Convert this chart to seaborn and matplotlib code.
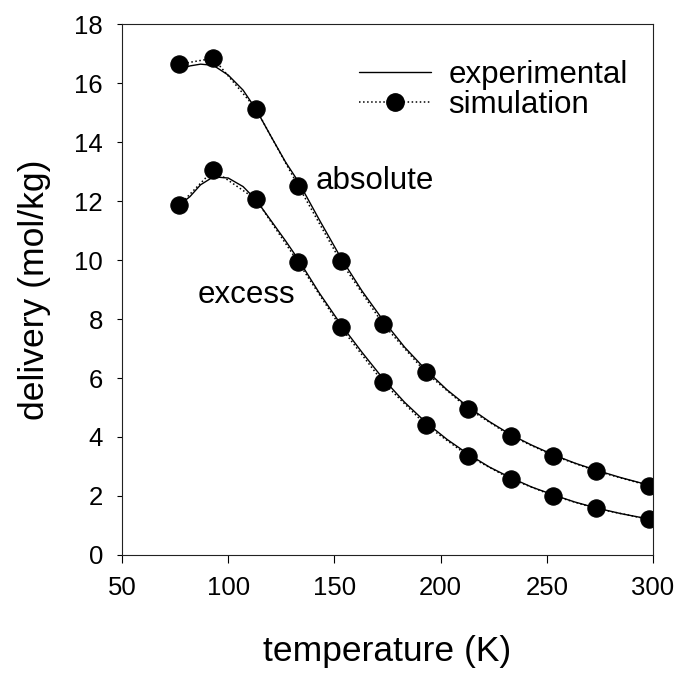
import matplotlib
matplotlib.use("Agg")
import matplotlib.pyplot as plt
import seaborn as sns
import pandas as pd
from matplotlib.lines import Line2D

# --- data ---
sim_T = [77, 93, 113, 133, 153, 173, 193, 213, 233, 253, 273, 298]
sim_absolute = [16.64, 16.84, 15.13, 12.51, 9.95, 7.82, 6.19, 4.96, 4.04, 3.37, 2.85, 2.35]
sim_excess = [11.86, 13.05, 12.06, 9.92, 7.72, 5.85, 4.41, 3.36, 2.58, 2.01, 1.58, 1.21]

exp_T = [77, 82, 87, 93, 100, 107, 113, 120, 127, 133, 143, 153, 163, 173,
         183, 193, 203, 213, 223, 233, 243, 253, 263, 273, 285, 298]
exp_absolute = [16.46, 16.58, 16.64, 16.60, 16.27, 15.76, 15.12, 14.21, 13.32, 12.66,
                11.35, 10.08, 8.95, 7.95, 7.05, 6.28, 5.60, 5.02, 4.52, 4.08,
                3.72, 3.40, 3.12, 2.88, 2.62, 2.37]
exp_excess = [11.86, 12.15, 12.55, 12.82, 12.78, 12.49, 12.05, 11.35, 10.65, 10.02,
              8.87, 7.82, 6.87, 5.97, 5.18, 4.50, 3.92, 3.42, 2.98, 2.62,
              2.30, 2.04, 1.80, 1.60, 1.40, 1.22]

x_ticks = [50, 100, 150, 200, 250, 300]
y_ticks = [0, 2, 4, 6, 8, 10, 12, 14, 16, 18]
legend_labels = ["experimental", "simulation"]
curve_labels = ["absolute", "excess"]

sim_df = pd.DataFrame({"T": sim_T, "absolute": sim_absolute, "excess": sim_excess})
exp_df = pd.DataFrame({"T": exp_T, "absolute": exp_absolute, "excess": exp_excess})

sns.set_theme(style="ticks")
plt.rcParams["font.family"] = ["Liberation Sans", "DejaVu Sans"]
plt.rcParams["text.color"] = "black"
plt.rcParams["axes.labelcolor"] = "black"
plt.rcParams["xtick.color"] = "black"
plt.rcParams["ytick.color"] = "black"

fig = plt.figure(figsize=(6.8, 6.75), dpi=100)
ax = fig.add_axes([0.1794, 0.1778, 0.9603 - 0.1794, 0.9644 - 0.1778])

for col in ["absolute", "excess"]:
    sns.lineplot(data=exp_df, x="T", y=col, ax=ax, color="black", lw=1.0,
                 linestyle="-", estimator=None, sort=True)
    sns.lineplot(data=sim_df, x="T", y=col, ax=ax, color="black", lw=1.1,
                 linestyle=":", marker="o", markersize=12.5,
                 markeredgecolor="black", markerfacecolor="black",
                 estimator=None, sort=True)

ax.set_xlim(50, 300)
ax.set_ylim(0, 18)
ax.set_xticks(x_ticks)
ax.set_yticks(y_ticks)
ax.set_xlabel("temperature (K)", fontsize=25.5, labelpad=25, color="black")
ax.set_ylabel("delivery (mol/kg)", fontsize=25.5, labelpad=17, color="black")
ax.tick_params(axis="x", direction="out", length=6, width=0.8, pad=9,
               labelsize=18.5, colors="black")
ax.tick_params(axis="y", direction="out", length=3.6, width=0.8, pad=10,
               labelsize=18.5, colors="black")
for s in ax.spines.values():
    s.set_visible(True)
    s.set_linewidth(0.8)
    s.set_color("#222222")

ax.text(141.3, 12.68, curve_labels[0], fontsize=22.5, va="center", ha="left", color="black")
ax.text(85.8, 8.81, curve_labels[1], fontsize=22.5, va="center", ha="left", color="black")

handles = [
    Line2D([], [], color="black", lw=1.0, linestyle="-"),
    Line2D([], [], color="black", lw=1.1, linestyle=":", marker="o",
           markersize=12.5, markerfacecolor="black"),
]
leg = ax.legend(handles, legend_labels, frameon=False, fontsize=22.5,
                loc="upper left", bbox_to_anchor=(0.447, 0.932),
                handlelength=2.3, handletextpad=0.55, labelspacing=0.0,
                borderaxespad=0.0, borderpad=0.0)
for t in leg.get_texts():
    t.set_color("black")

fig.savefig("out.png", dpi=100, facecolor="white")
